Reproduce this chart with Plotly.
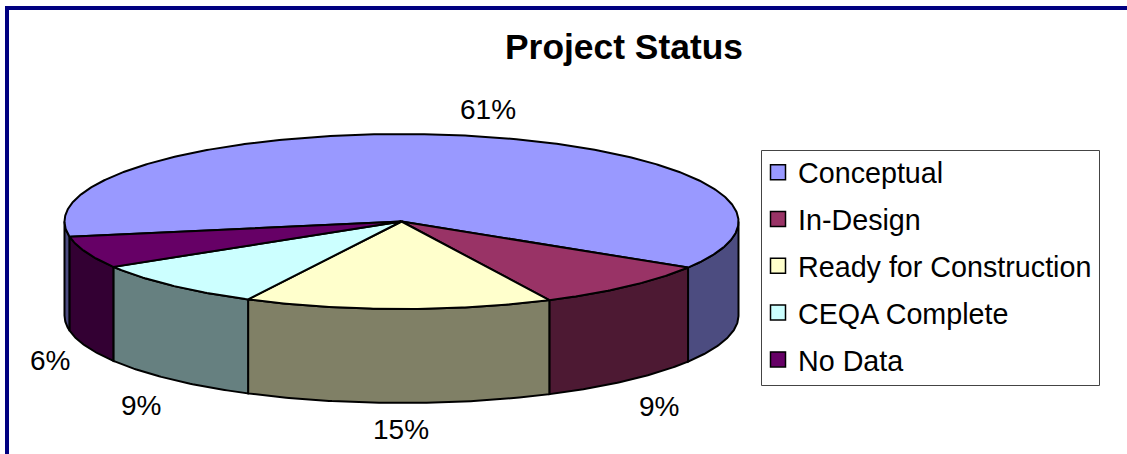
import numpy as np
import plotly.graph_objects as go

categories = ["Conceptual", "In-Design", "Ready for Construction", "CEQA Complete", "No Data"]
values = [61.6, 8.95, 14.75, 8.8, 5.9]
labels = ["61%", "9%", "15%", "9%", "6%"]
top_colors = ["#9999FF", "#993366", "#FFFFCC", "#CCFFFF", "#660066"]
side_colors = ["#4C4C80", "#4D1933", "#808066", "#668080", "#330033"]
label_shift = [(23, -26), (31, 26), (3, 26), (-31, 26), (-36, 14)]

CX, CY, RX, RY, DEPTH = 401.5, 221.5, 337, 87.5, 94
START = 170
FONT = "Liberation Sans"
LINE = dict(color="black", width=2)


def rim(a, b, dy=0.0):
    t = np.radians(np.linspace(a, b, max(int(abs(b - a) * 2), 2)))
    return CX + RX * np.cos(t), CY + RY * np.sin(t) + dy


fig = go.Figure()
spans = []
a = START
for v in values:
    b = a + v * 3.6
    spans.append((a, b))
    a = b

# side walls of the front half of the disc
for (a, b), col in zip(spans, side_colors):
    for lo, hi in ((0, 180), (360, 540)):
        s, e = max(a, lo), min(b, hi)
        if e > s:
            x1, y1 = rim(s, e)
            x2, y2 = rim(e, s, DEPTH)
            fig.add_trace(go.Scatter(
                x=np.r_[x1, x2, x1[0]], y=np.r_[y1, y2, y1[0]], mode="lines",
                fill="toself", fillcolor=col, line=LINE, showlegend=False, hoverinfo="skip"))

# top face
for (a, b), col, name in zip(spans, top_colors, categories):
    x, y = rim(a, b)
    fig.add_trace(go.Scatter(
        x=np.r_[CX, x, CX], y=np.r_[CY, y, CY], mode="lines", name=name,
        fill="toself", fillcolor=col, line=LINE, showlegend=False))

# legend entries
for i, (name, col) in enumerate(zip(categories, top_colors)):
    fig.add_trace(go.Scatter(
        x=[None], y=[None], mode="markers", name=name, legendgroup=str(i),
        marker=dict(symbol="square", size=15, color=col, line=dict(color="black", width=1.5))))

# percentage labels
for (a, b), txt, (dx, dy) in zip(spans, labels, label_shift):
    m = np.radians((a + b) / 2)
    front = np.sin(m) > 0
    fig.add_annotation(
        x=CX + RX * np.cos(m), y=CY + RY * np.sin(m) + (DEPTH if front else 0),
        text=txt, showarrow=False, xshift=dx, yshift=-dy,
        font=dict(family=FONT, size=28, color="black"))

# navy frame, open at the bottom and on the right
for x0, y0, x1, y1 in ((5, 6, 1127, 10), (5, 6, 9, 454)):
    fig.add_shape(type="rect", xref="x", yref="y", x0=x0, y0=y0, x1=x1, y1=y1,
                  fillcolor="#000080", line_width=0, layer="above")

# legend box
fig.add_shape(type="rect", xref="x", yref="y", x0=761.5, y0=150.5, x1=1099.5, y1=385.5,
              fillcolor="white", line=dict(color="#444444", width=1), layer="below")

fig.update_xaxes(range=[0, 1127], visible=False, fixedrange=True)
fig.update_yaxes(range=[454, 0], visible=False, fixedrange=True)
fig.update_layout(
    width=1127, height=454, margin=dict(l=0, r=0, t=0, b=0),
    paper_bgcolor="white", plot_bgcolor="white",
    title=dict(text="<b>Project Status</b>", x=624 / 1127, y=1 - 47 / 454,
               xanchor="center", yanchor="middle", xref="paper", yref="paper",
               font=dict(family=FONT, size=35.4, color="black")),
    legend=dict(x=758 / 1127, y=1 - 147 / 454, xanchor="left", yanchor="top",
                bgcolor="rgba(0,0,0,0)", borderwidth=0,
                font=dict(family=FONT, size=28.7, color="black"),
                itemwidth=30, tracegroupgap=6.5, traceorder="grouped",
                itemclick=False, itemdoubleclick=False),
    showlegend=True,
)
fig.write_html("out.html", config=dict(displayModeBar=False),
               post_script="document.body.style.margin='0';document.documentElement.style.overflow='hidden';")
